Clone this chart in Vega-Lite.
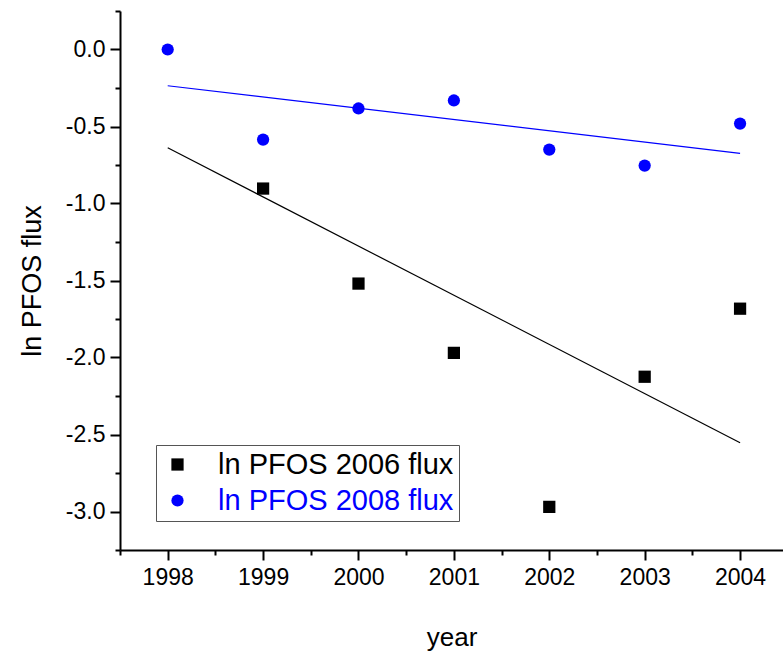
{
  "$schema": "https://vega.github.io/schema/vega-lite/v6.json",
  "width": 663,
  "height": 539,
  "autosize": {"type": "none"},
  "padding": {"left": 120, "top": 11, "right": 0, "bottom": 106},
  "background": "white",
  "config": {
    "view": {"stroke": null},
    "font": "Liberation Sans",
    "axis": {"grid": false, "domainColor": "black", "domainWidth": 2, "tickColor": "black", "tickWidth": 2, "labelColor": "black", "titleColor": "black", "labelFont": "Liberation Sans", "titleFont": "Liberation Sans", "titleFontWeight": "normal", "labelOverlap": false, "labelFlush": false}
  },
  "data": {
    "values": [
      {"year": 1998, "value": 0.0, "series": "ln PFOS 2006 flux"},
      {"year": 1999, "value": -0.903, "series": "ln PFOS 2006 flux"},
      {"year": 2000, "value": -1.52, "series": "ln PFOS 2006 flux"},
      {"year": 2001, "value": -1.97, "series": "ln PFOS 2006 flux"},
      {"year": 2002, "value": -2.97, "series": "ln PFOS 2006 flux"},
      {"year": 2003, "value": -2.125, "series": "ln PFOS 2006 flux"},
      {"year": 2004, "value": -1.683, "series": "ln PFOS 2006 flux"},
      {"year": 1998, "value": 0.0, "series": "ln PFOS 2008 flux"},
      {"year": 1999, "value": -0.585, "series": "ln PFOS 2008 flux"},
      {"year": 2000, "value": -0.383, "series": "ln PFOS 2008 flux"},
      {"year": 2001, "value": -0.331, "series": "ln PFOS 2008 flux"},
      {"year": 2002, "value": -0.65, "series": "ln PFOS 2008 flux"},
      {"year": 2003, "value": -0.754, "series": "ln PFOS 2008 flux"},
      {"year": 2004, "value": -0.481, "series": "ln PFOS 2008 flux"}
    ]
  },
  "encoding": {
    "x": {
      "field": "year", "type": "quantitative",
      "scale": {"domain": [1997.5, 2004.45], "nice": false, "zero": false},
      "axis": {
        "title": "year", "titleFontSize": 26, "titleY": 87, "titleBaseline": "middle",
        "values": [1997.5, 1998, 1998.5, 1999, 1999.5, 2000, 2000.5, 2001, 2001.5, 2002, 2002.5, 2003, 2003.5, 2004],
        "labelExpr": "datum.value % 1 == 0 ? '' + datum.value : ''",
        "labelFontSize": 23, "labelPadding": 6,
        "tickSize": {"condition": {"test": "datum.value % 1 != 0", "value": 5}, "value": 10}
      }
    },
    "y": {
      "field": "value", "type": "quantitative",
      "scale": {"domain": [-3.25, 0.25], "nice": false, "zero": false},
      "axis": {
        "title": "ln PFOS flux", "titleFontSize": 27, "titleX": -88, "titleBaseline": "middle",
        "values": [-3.25, -3, -2.75, -2.5, -2.25, -2, -1.75, -1.5, -1.25, -1, -0.75, -0.5, -0.25, 0, 0.25],
        "labelExpr": "abs(datum.value*2 - round(datum.value*2)) > 0.01 ? '' : replace(format(datum.value, '.1f'), '\u2212', '-')",
        "labelFontSize": 23, "labelPadding": 5,
        "tickSize": {"condition": {"test": "abs(datum.value*2 - round(datum.value*2)) > 0.01", "value": 5}, "value": 10}
      }
    }
  },
  "layer": [
    {
      "transform": [{"filter": "datum.series == 'ln PFOS 2006 flux'"}, {"regression": "value", "on": "year"}],
      "mark": {"type": "line", "strokeWidth": 1.2, "color": "black"},
      "encoding": {}
    },
    {
      "transform": [{"filter": "datum.series == 'ln PFOS 2008 flux'"}, {"regression": "value", "on": "year"}],
      "mark": {"type": "line", "strokeWidth": 1.2, "color": "#0000ff"},
      "encoding": {}
    },
    {
      "transform": [{"filter": "!(datum.series == 'ln PFOS 2006 flux' && datum.year == 1998)"}],
      "mark": {"type": "point", "filled": true, "opacity": 1, "size": 150},
      "encoding": {
        "color": {"field": "series", "type": "nominal",
          "scale": {"domain": ["ln PFOS 2006 flux", "ln PFOS 2008 flux"], "range": ["black", "#0000ff"]},
          "legend": {
            "title": null, "orient": "none", "legendX": 36, "legendY": 434,
            "strokeColor": "#555555", "padding": 5, "fillColor": "white",
            "labelFontSize": 29, "labelFont": "Liberation Sans", "labelOffset": 26, "labelLimit": 500,
            "symbolOffset": 2, "symbolSize": 150, "rowPadding": 6,
            "labelColor": {"expr": "datum.label == 'ln PFOS 2008 flux' ? '#0000ff' : 'black'"}
          }
        },
        "shape": {"field": "series", "type": "nominal",
          "scale": {"domain": ["ln PFOS 2006 flux", "ln PFOS 2008 flux"], "range": ["square", "circle"]}}
      }
    }
  ]
}
